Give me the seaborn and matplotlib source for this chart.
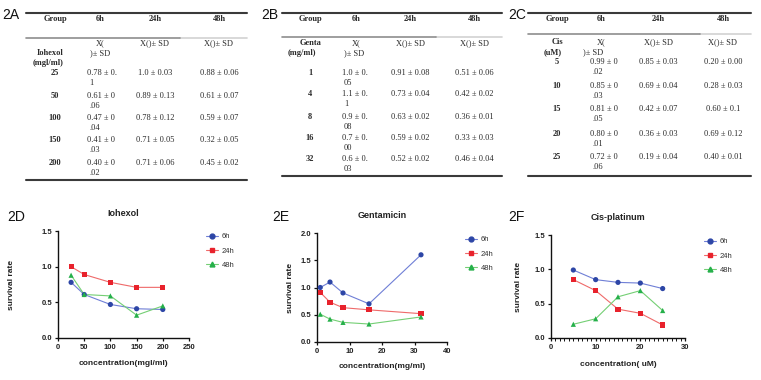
import numpy as np
import pandas as pd
import matplotlib
matplotlib.use("Agg")
import matplotlib.pyplot as plt
from matplotlib.lines import Line2D
import seaborn as sns

# ---------------- data ----------------
times = ["6h", "24h", "48h"]

iohexol_conc = [25, 50, 100, 150, 200]
iohexol_6h = [0.78, 0.61, 0.47, 0.41, 0.40]
iohexol_24h = [1.0, 0.89, 0.78, 0.71, 0.71]
iohexol_48h = [0.88, 0.61, 0.59, 0.32, 0.45]

genta_conc = [1, 4, 8, 16, 32]
genta_6h = [1.0, 1.1, 0.9, 0.7, 1.6]
genta_24h = [0.91, 0.73, 0.63, 0.59, 0.52]
genta_48h = [0.51, 0.42, 0.36, 0.33, 0.46]

cis_conc = [5, 10, 15, 20, 25]
cis_6h = [0.99, 0.85, 0.81, 0.80, 0.72]
cis_24h = [0.85, 0.69, 0.42, 0.36, 0.19]
cis_48h = [0.20, 0.28, 0.60, 0.69, 0.40]

# table texts
tabA_rows = ["25", "50", "100", "150", "200"]
tabA_6h = [("0.78 ± 0.", "1"), ("0.61 ± 0", ".06"), ("0.47 ± 0", ".04"), ("0.41 ± 0", ".03"), ("0.40 ± 0", ".02")]
tabA_24h = ["1.0 ± 0.03", "0.89 ± 0.13", "0.78 ± 0.12", "0.71 ± 0.05", "0.71 ± 0.06"]
tabA_48h = ["0.88 ± 0.06", "0.61 ± 0.07", "0.59 ± 0.07", "0.32 ± 0.05", "0.45 ± 0.02"]

tabB_rows = ["1", "4", "8", "16", "32"]
tabB_6h = [("1.0 ± 0.", "05"), ("1.1 ± 0.", "1"), ("0.9 ± 0.", "08"), ("0.7 ± 0.", "00"), ("0.6 ± 0.", "03")]
tabB_24h = ["0.91 ± 0.08", "0.73 ± 0.04", "0.63 ± 0.02", "0.59 ± 0.02", "0.52 ± 0.02"]
tabB_48h = ["0.51 ± 0.06", "0.42 ± 0.02", "0.36 ± 0.01", "0.33 ± 0.03", "0.46 ± 0.04"]

tabC_rows = ["5", "10", "15", "20", "25"]
tabC_6h = [("0.99 ± 0", ".02"), ("0.85 ± 0", ".03"), ("0.81 ± 0", ".05"), ("0.80 ± 0", ".01"), ("0.72 ± 0", ".06")]
tabC_24h = ["0.85 ± 0.03", "0.69 ± 0.04", "0.42 ± 0.07", "0.36 ± 0.03", "0.19 ± 0.04"]
tabC_48h = ["0.20 ± 0.00", "0.28 ± 0.03", "0.60 ± 0.1", "0.69 ± 0.12", "0.40 ± 0.01"]

# ---------------- style ----------------
sns.set_theme(style="ticks")
plt.rcParams["font.family"] = ["Liberation Sans", "DejaVu Sans"]

W, H = 761, 380
fig = plt.figure(figsize=(W / 100, H / 100), dpi=100)


def fx(x):
    return x / W


def fy(y):
    return 1 - y / H


SERIF = ["Liberation Serif", "DejaVu Serif"]
TXT = "#2a2a2a"


def ftext(x, y, s, ha="center", bold=False, size=6, family=None, color=TXT):
    fig.text(fx(x), fy(y), s, ha=ha, va="center", fontsize=size,
             fontweight="bold" if bold else "normal",
             family=family if family else SERIF, color=color)


def hline(x0, x1, y, lw=1.4, color="#3a3a3a"):
    fig.add_artist(Line2D([fx(x0), fx(x1)], [fy(y), fy(y)], lw=lw, color=color,
                          transform=fig.transFigure))


def draw_table(lab, labx, x0, x1, gray_y, gray_end, bot_y, colx, hdr_name, hdr_unit, namex, unitx,
               hdr_y, rows, rowy, v6, v6x, v24, v48, xsd_y, sdx):
    ftext(labx, 15, lab, ha="left", size=10, family=["Liberation Sans"], color="#111")
    hline(x0, x1, 13, lw=1.5)
    hline(gray_end, x1, gray_y, lw=1.2, color="#d2d2d2")
    hline(x0, gray_end, gray_y, lw=1.2, color="#8e8e8e")
    hline(x0, x1, bot_y, lw=1.5)
    for name, cx in zip(["Group"] + times, colx):
        ftext(cx, 19, name, bold=True)
    ftext(namex, hdr_y, hdr_name, bold=True)
    ftext(unitx, hdr_y + 10, hdr_unit, bold=True)
    ftext(colx[1], xsd_y, "X(")
    ftext(sdx, xsd_y + 10, ")± SD")
    ftext(colx[2], xsd_y, "X()± SD")
    ftext(colx[3], xsd_y, "X()± SD")
    for r, y, a, b, c in zip(rows, rowy, v6, v24, v48):
        ftext(colx[0], y, r, bold=True)
        ftext(v6x, y, a[0], ha="left")
        ftext(v6x + 2, y + 10, a[1], ha="left")
        ftext(colx[2], y, b)
        ftext(colx[3], y, c)


draw_table("2A", 2, 26, 247, 38, 180, 180, [55, 100, 155, 219], "Iohexol", "(mgl/ml)", 50, 48,
           53, tabA_rows, [73, 96, 118, 140, 163], tabA_6h, 87, tabA_24h, tabA_48h, 43, 100)
draw_table("2B", 261, 282, 502, 37, 436, 176, [310, 356, 410, 474], "Genta", "(mg/ml)", 311, 302,
           43, tabB_rows, [73, 94, 117, 138, 159], tabB_6h, 342, tabB_24h, tabB_48h, 43, 354)
draw_table("2C", 508, 528, 751, 34, 700, 176, [557, 601, 658, 723], "Cis", "(uM)", 557, 553,
           42, tabC_rows, [62, 86, 109, 134, 157], tabC_6h, 590, tabC_24h, tabC_48h, 42, 593)

# ---------------- line charts ----------------
line_colors = {"6h": "#6f7fd6", "24h": "#ef6a6a", "48h": "#74cf74"}
mark_colors = {"6h": "#2d46a6", "24h": "#e8222c", "48h": "#25b04a"}
markers = {"6h": "o", "24h": "s", "48h": "^"}


def make_df(conc, a, b, c):
    return pd.DataFrame({
        "conc": list(conc) * 3,
        "rate": list(a) + list(b) + list(c),
        "time": sum([[t] * len(conc) for t in times], []),
    })


panels = [
    dict(lab="2D", labx=7, title="Iohexol", box=(58, 189, 231, 338), df=make_df(iohexol_conc, iohexol_6h, iohexol_24h, iohexol_48h),
         xlim=(0, 250), xt=np.arange(0, 251, 50), ylim=(0, 1.5), yt=[0, 0.5, 1.0, 1.5],
         xlabel="concentration(mgl/ml)", ylab_x=18, xlab_y=363, title_y=216, leg=(206, 233), minor=None),
    dict(lab="2E", labx=272, title="Gentamicin", box=(317, 447, 233, 342), df=make_df(genta_conc, genta_6h, genta_24h, genta_48h),
         xlim=(0, 40), xt=np.arange(0, 41, 10), ylim=(0, 2.0), yt=[0, 0.5, 1.0, 1.5, 2.0],
         xlabel="concentration(mg/ml)", ylab_x=297, xlab_y=366, title_y=218, leg=(465, 236), minor=None),
    dict(lab="2F", labx=508, title="Cis-platinum", box=(551, 685, 235, 338), df=make_df(cis_conc, cis_6h, cis_24h, cis_48h),
         xlim=(0, 30), xt=np.arange(0, 31, 10), ylim=(0, 1.5), yt=[0, 0.5, 1.0, 1.5],
         xlabel="concentration( uM)", ylab_x=525, xlab_y=364, title_y=220, leg=(704, 238), minor=1),
]

for p in panels:
    l, r, t, b = p["box"]
    ax = fig.add_axes([fx(l), fy(b), (r - l) / W, (b - t) / H])
    df = p["df"]
    sns.lineplot(data=df, x="conc", y="rate", hue="time", palette=line_colors,
                 legend=False, lw=0.8, ax=ax, zorder=2)
    sns.scatterplot(data=df, x="conc", y="rate", hue="time", style="time", markers=markers,
                    palette=mark_colors, s=14, linewidth=0, legend=False, ax=ax, zorder=3,
                    clip_on=False)
    ax.set_xlim(*p["xlim"])
    ax.set_ylim(*p["ylim"])
    ax.set_xticks(p["xt"])
    ax.set_yticks(p["yt"])
    ax.set_xticklabels([f"{v:g}" for v in p["xt"]])
    ax.set_yticklabels([f"{v:.1f}" for v in p["yt"]])
    if p["minor"]:
        ax.set_xticks(np.arange(p["xlim"][0], p["xlim"][1] + 0.01, p["minor"]), minor=True)
        ax.tick_params(axis="x", which="minor", length=1.8, width=0.7, color="#111")
    sns.despine(ax=ax)
    for s in ["left", "bottom"]:
        ax.spines[s].set_linewidth(1.0)
        ax.spines[s].set_color("#111")
    ax.tick_params(axis="both", which="major", length=2.5, width=0.9, pad=1.5,
                   labelsize=5.5, color="#111", labelcolor="#222")
    for lab in ax.get_xticklabels() + ax.get_yticklabels():
        lab.set_fontweight("bold")
    ax.set_xlabel(p["xlabel"], fontsize=6, fontweight="bold", color="#222")
    ax.set_ylabel("survival rate", fontsize=6, fontweight="bold", color="#222")
    hpx = b - t
    wpx = r - l
    ax.xaxis.set_label_coords(0.5, -(p["xlab_y"] - 3 - b) / hpx)
    ax.yaxis.set_label_coords((p["ylab_x"] - 3 - l) / wpx, 0.5)
    ax.set_title(p["title"], fontsize=6.5, fontweight="bold", color="#222",
                 y=1 + (t - p["title_y"]) / hpx, pad=0)
    fig.text(fx(p["labx"]), fy(217), p["lab"], fontsize=10, ha="left", va="center", color="#111")

    handles = [Line2D([0], [0], color=line_colors[tm], lw=0.8, marker=markers[tm],
                      markerfacecolor=mark_colors[tm], markeredgecolor=mark_colors[tm],
                      markersize=3.5) for tm in times]
    lx, ly = p["leg"]
    ax.legend(handles, times, loc="upper left", bbox_to_anchor=(fx(lx), fy(ly)),
              bbox_transform=fig.transFigure, frameon=False, fontsize=5.5,
              handlelength=1.6, handletextpad=0.5, labelspacing=0.9,
              borderpad=0, borderaxespad=0, labelcolor="#333")

fig.savefig("out.png", dpi=100)
